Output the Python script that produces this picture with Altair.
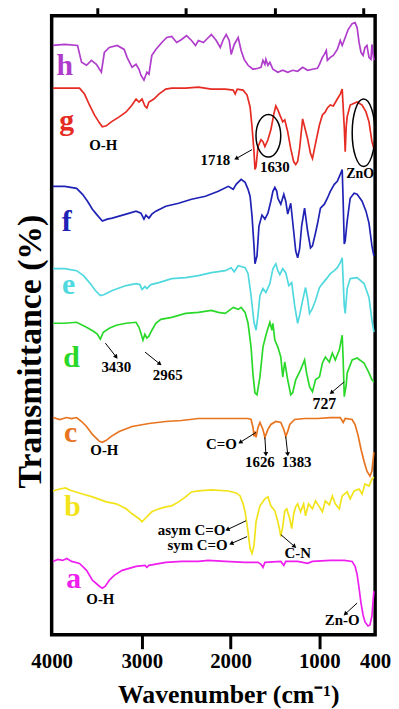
import math
import altair as alt
import pandas as pd

# ---------------- data (wavenumber cm-1, offset transmittance a.u.) ----------------
series = ["a", "b", "c", "d", "e", "f", "g", "h"]
colors = ["#EE1EEE", "#F2E31B", "#E8741F", "#2AD82A", "#50D8DF", "#1F22B4", "#E52B22", "#B03CCB"]

h_wn = [4000,3868,3723,3678,3622,3567,3511,3455,3421,3366,3276,3198,3165,3109,3064,3031,3009,2975,2942,2919,
        2886,2841,2774,2718,2662,2606,2551,2495,2439,2394,2361,2305,2249,2215,2160,2115,2081,2048,2014,1992,
        1958,1913,1880,1846,1802,1746,1690,1656,1634,1612,1601,1578,1556,1522,1466,1411,1355,1299,1243,1187,
        1131,1076,1020,997,964,942,920,908,875,841,796,763,741,707,674,629,596,573,551,529,
        506,484,462,439,417,406,384]
h_t = [594,595,594,577,574,579,575,567,587,592,594,590,582,572,575,570,564,559,567,565,
       584,590,597,602,603,597,600,604,599,594,599,597,602,605,599,592,600,605,599,585,
       595,602,589,580,574,570,571,572,579,575,580,574,577,570,567,569,567,569,568,572,
       569,570,571,575,582,585,589,579,582,584,590,599,594,602,610,616,617,612,597,587,
       584,592,594,582,580,595,579]

g_wn = [4000,3868,3701,3645,3589,3533,3477,3444,3399,3343,3254,3176,3109,3064,3031,2997,2964,2942,2919,2863,
        2807,2729,2662,2506,2361,2215,2059,1969,1947,1924,1858,1813,1779,1757,1735,1724,1712,1690,1656,1634,
        1612,1578,1545,1511,1489,1466,1444,1411,1388,1355,1321,1288,1265,1243,1221,1187,1165,1131,1098,1076,
        1042,997,964,931,908,875,841,796,763,741,718,707,696,685,651,573,517,473,439,406,384]
g_t = [551,551,551,545,534,524,516,512,513,517,522,527,534,540,537,540,533,531,537,540,
       545,550,551,551,552,550,550,549,545,550,549,544,532,512,487,469,472,492,499,497,
       492,499,509,525,533,529,524,517,519,507,490,477,474,477,490,520,512,500,485,480,
       495,514,524,527,531,534,533,540,545,550,512,487,512,522,534,537,534,527,517,497,490]

f_wn = [4000,3868,3734,3667,3611,3556,3511,3444,3388,3332,3254,3176,3064,3009,2975,2953,2919,2886,2841,2729,
        2584,2439,2282,2137,2025,1969,1936,1880,1835,1802,1779,1757,1735,1724,1701,1679,1645,1612,1578,1545,
        1522,1500,1478,1466,1433,1399,1377,1355,1321,1288,1265,1243,1221,1198,1165,1131,1098,1076,1042,1020,
        986,942,908,875,830,796,763,741,730,718,707,685,651,607,573,517,473,439,406,384]
f_t = [452,452,450,444,437,429,424,417,419,420,422,424,427,425,419,423,420,424,427,432,
       435,439,442,447,452,449,454,459,456,449,442,422,392,374,382,412,423,419,425,437,
       447,451,447,440,434,444,437,424,435,407,387,380,389,412,430,407,390,392,405,414,
       430,434,440,447,454,457,464,469,437,394,397,417,440,445,444,437,427,415,392,382]

e_wn = [4000,3868,3734,3656,3589,3522,3466,3421,3332,3176,3064,3020,2997,2964,2942,2897,2807,2662,2506,2361,
        2215,2059,1992,1958,1913,1835,1802,1768,1735,1712,1690,1668,1634,1601,1556,1522,1489,1466,1444,1411,
        1377,1343,1310,1277,1243,1221,1187,1154,1131,1109,1076,1042,997,964,908,875,830,796,763,741,
        730,718,707,685,651,573,495,439,406,384]
e_t = [369,369,367,362,355,347,342,343,347,352,354,353,348,351,349,353,355,359,360,362,
       365,367,370,366,372,370,364,342,315,307,322,342,349,345,354,369,374,367,363,369,
       365,352,355,332,314,322,337,350,339,324,329,337,350,354,360,364,367,370,375,380,
       357,332,324,349,359,360,354,340,317,305]

d_wn = [4000,3868,3734,3622,3544,3500,3466,3433,3366,3287,3176,3064,3031,3009,2986,2964,2942,2919,2886,2841,
        2785,2662,2506,2361,2215,2137,2059,1969,1913,1880,1835,1802,1768,1746,1724,1701,1668,1634,1601,1578,
        1556,1533,1522,1500,1466,1433,1411,1388,1355,1321,1299,1265,1210,1165,1143,1109,1076,1042,997,964,
        931,886,852,819,774,741,730,718,696,685,629,573,495,439,406,384]
d_t = [314,314,315,310,306,303,298,305,309,312,314,315,310,304,297,303,299,301,307,314,
       318,320,324,325,327,325,324,330,328,330,325,314,290,262,244,242,260,290,302,309,
       315,307,314,297,290,280,260,275,257,242,244,257,267,277,264,250,245,257,260,274,
       280,275,284,277,287,302,277,240,252,264,277,279,274,264,257,255]

c_wn = [4000,3924,3845,3790,3734,3678,3622,3556,3477,3444,3399,3343,3254,3109,2919,2729,2551,2361,2171,1992,
        1802,1768,1746,1735,1724,1712,1690,1668,1634,1612,1578,1545,1489,1433,1399,1377,1355,1332,1277,1165,
        1020,875,763,730,707,629,596,562,529,495,462,428,406,384]
c_t = [219,217,219,218,219,215,210,202,195,194,196,200,205,210,213,215,216,218,218,218,
       218,217,209,200,205,199,209,214,207,199,207,212,215,214,207,200,205,212,217,218,
       218,219,219,214,218,217,212,201,187,175,165,160,165,184]

b_wn = [4000,3924,3857,3812,3779,3667,3556,3399,3287,3176,3109,3031,2997,2953,2886,2807,2729,2662,2584,2506,
        2439,2361,2215,2025,1936,1891,1858,1835,1802,1779,1757,1735,1712,1668,1612,1578,1545,1500,1466,1444,
        1433,1411,1388,1366,1332,1310,1288,1265,1243,1210,1176,1154,1120,1076,1042,997,964,931,886,852,
        819,774,741,685,651,607,551,517,484,439,406,384]
b_t = [145,147,148,146,145,142,139,134,132,127,122,117,114,118,124,127,129,130,134,139,
       144,145,146,145,143,140,132,124,104,87,82,90,114,130,137,139,130,125,114,105,
       99,109,125,127,117,107,122,129,132,124,132,120,132,127,135,129,124,135,131,140,
       132,127,140,144,137,145,147,142,152,150,157,159]

a_wn = [4000,3946,3890,3845,3790,3701,3622,3556,3477,3444,3410,3366,3310,3220,3064,2964,2942,2919,2729,2551,
        2361,2249,2059,1835,1690,1656,1634,1612,1433,1399,1377,1243,1131,1076,875,718,629,596,573,551,
        529,506,484,450,428,406,395,384]
a_t = [74,76,75,77,74,72,65,55,49,47,49,55,60,65,69,70,68,70,73,74,
       74,75,74,73,73,71,68,73,74,70,74,74,72,74,75,75,74,69,61,47,
       32,20,13,9,10,19,32,44]

# series letters: (wavenumber, level)
letter_wn = [3768, 3779, 3801, 3790, 3823, 3845, 3845, 3868]
letter_t = [47, 120, 194, 270, 344, 407, 509, 564]

# band annotations
ann_text = ["O-H", "1718", "1630", "ZnO", "O-H", "C=O", "1626", "1383", "3430", "2965", "727",
            "asym C=O", "sym C=O", "C-N", "O-H", "Zn-O"]
ann_wn = [3433, 2170, 1500, 540, 3421, 2103, 1668, 1254, 3287, 2707, 942, 2438, 2371, 1243, 3466, 741]
ann_t = [489, 474, 466, 460, 181, 187, 169, 169, 265, 257, 228, 101, 86, 77, 31, 10]
ann_fs = [15, 15, 15, 14, 15, 15, 15, 15, 15, 15, 16, 15, 15, 15, 15, 15]

# arrows: from band to label
arr_wn1 = [1757, 1712, 1612, 1377, 3410, 2963, 718, 1824, 1813, 1433, 573]
arr_t1 = [489, 204, 199, 200, 294, 285, 255, 115, 99, 101, 32]
arr_wn2 = [1936, 1891, 1601, 1355, 3287, 2796, 863, 2036, 1992, 1277, 707]
arr_t2 = [480, 194, 182, 182, 280, 273, 244, 106, 92, 89, 21]

# circled regions (wavenumber, level)
circ_wn = [1573, 500]
circ_t = [503, 506]

# ---------------- build tables ----------------
spec = {"a": (a_wn, a_t), "b": (b_wn, b_t), "c": (c_wn, c_t), "d": (d_wn, d_t),
        "e": (e_wn, e_t), "f": (f_wn, f_t), "g": (g_wn, g_t), "h": (h_wn, h_t)}
frames = []
for s in series:
    w, t = spec[s]
    frames.append(pd.DataFrame({"series": s, "wn": w, "T": t}))
df = pd.concat(frames, ignore_index=True)

letters = pd.DataFrame({"series": series, "wn": letter_wn, "T": letter_t})
ann = pd.DataFrame({"label": ann_text, "wn": ann_wn, "T": ann_t, "fs": ann_fs})

W, H = 326, 624
XD = [4015, 370]
YD = [0, 624]
px_per_wn = W / (XD[0] - XD[1])
px_per_t = H / (YD[1] - YD[0])
angles = []
for w1, t1, w2, t2 in zip(arr_wn1, arr_t1, arr_wn2, arr_t2):
    dx = (w1 - w2) * px_per_wn
    dy = (t1 - t2) * px_per_t
    angles.append(math.degrees(math.atan2(dx, -dy)) % 360)
arrows = pd.DataFrame({"wn1": arr_wn1, "t1": arr_t1, "wn2": arr_wn2, "t2": arr_t2, "ang": angles})
circ1 = pd.DataFrame({"wn": circ_wn[:1], "T": circ_t[:1]})
circ2 = pd.DataFrame({"wn": circ_wn[1:], "T": circ_t[1:]})

# ---------------- chart ----------------
FONT = "Liberation Serif"
xscale = alt.Scale(domain=XD, nice=False, zero=False)
yscale = alt.Scale(domain=YD, nice=False, zero=False)
cscale = alt.Scale(domain=series, range=colors)

major_axis = alt.Axis(
    values=[4015, 3000, 2000, 1000, 370],
    labelExpr="datum.value == 4015 ? '4000' : (datum.value == 370 ? '400' : '' + datum.value)",
    tickSize=14, tickWidth=3, tickColor="black",
    tickOpacity={"condition": {"test": "datum.value == 4015 || datum.value == 370", "value": 0}, "value": 1},
    domain=False, grid=False,
    labelFont=FONT, labelFontSize=21, labelFontWeight="bold", labelColor="black",
    labelPadding=2, labelFlush=False, labelOverlap=False,
    title="Wavenumber (cm⁻¹)", titleFont=FONT, titleFontSize=26, titleFontWeight="bold",
    titleColor="black", titleX=178, titleY=68, titleAlign="center", titleBaseline="alphabetic",
)
minor_axis = alt.Axis(values=[3500, 2500, 1500, 500], tickSize=8, tickWidth=3, tickColor="black",
                      labels=False, domain=False, grid=False, title="")
y_axis = alt.Axis(labels=False, ticks=False, domain=False, grid=False,
                  title="Transmittance (%)", titleFont=FONT, titleFontSize=34, titleFontWeight="bold",
                  titleColor="black", titleX=-11, titleY=338, titleAngle=270, titleAlign="center",
                  titleBaseline="alphabetic")

lines = alt.Chart(df).mark_line(strokeWidth=1.7).encode(
    x=alt.X("wn:Q", scale=xscale, axis=major_axis),
    y=alt.Y("T:Q", scale=yscale, axis=y_axis),
    color=alt.Color("series:N", scale=cscale, legend=None),
    detail="series:N",
)

letter_layer = alt.Chart(letters).mark_text(font=FONT, fontSize=30, fontWeight="bold",
                                            align="center", baseline="alphabetic").encode(
    x=alt.X("wn:Q", scale=xscale, axis=minor_axis),
    y=alt.Y("T:Q", scale=yscale, axis=None),
    text="series:N",
    color=alt.Color("series:N", scale=cscale, legend=None),
)

ann_layer = alt.Chart(ann).mark_text(font=FONT, fontWeight="bold", color="black",
                                     align="center", baseline="alphabetic").encode(
    x=alt.X("wn:Q", scale=xscale, axis=None),
    y=alt.Y("T:Q", scale=yscale, axis=None),
    text="label:N",
    size=alt.Size("fs:Q", scale=None),
)

arrow_lines = alt.Chart(arrows).mark_rule(color="black", strokeWidth=1).encode(
    x=alt.X("wn1:Q", scale=xscale, axis=None),
    y=alt.Y("t1:Q", scale=yscale, axis=None),
    x2="wn2:Q",
    y2="t2:Q",
)
arrow_heads = alt.Chart(arrows).mark_point(shape="triangle-up", filled=True, size=24,
                                          color="black", opacity=1).encode(
    x=alt.X("wn2:Q", scale=xscale, axis=None),
    y=alt.Y("t2:Q", scale=yscale, axis=None),
    angle=alt.Angle("ang:Q", scale=None),
)

ell1 = alt.Chart(circ1).mark_point(shape="M0,-1A0.58,1 0 1,1 0,1A0.58,1 0 1,1 0,-1Z",
                                   size=1849, filled=False, color="black", strokeWidth=1.5,
                                   opacity=1).encode(
    x=alt.X("wn:Q", scale=xscale, axis=None),
    y=alt.Y("T:Q", scale=yscale, axis=None),
)
ell2 = alt.Chart(circ2).mark_point(shape="M0,-1A0.338,1 0 1,1 0,1A0.338,1 0 1,1 0,-1Z",
                                   size=4624, filled=False, color="black", strokeWidth=1.5,
                                   opacity=1).encode(
    x=alt.X("wn:Q", scale=xscale, axis=None),
    y=alt.Y("T:Q", scale=yscale, axis=None),
)

chart = alt.layer(lines, letter_layer, ann_layer, arrow_lines, arrow_heads, ell1, ell2).resolve_axis(
    x="independent", y="independent"
).properties(
    width=W, height=H,
    padding={"left": 44, "top": 5, "right": 16, "bottom": 72},
    autosize=alt.AutoSizeParams(type="none"),
    background="white",
).configure_view(stroke="black", strokeWidth=3.5)

chart.save("out.html", embed_options={"renderer": "svg", "actions": False})
